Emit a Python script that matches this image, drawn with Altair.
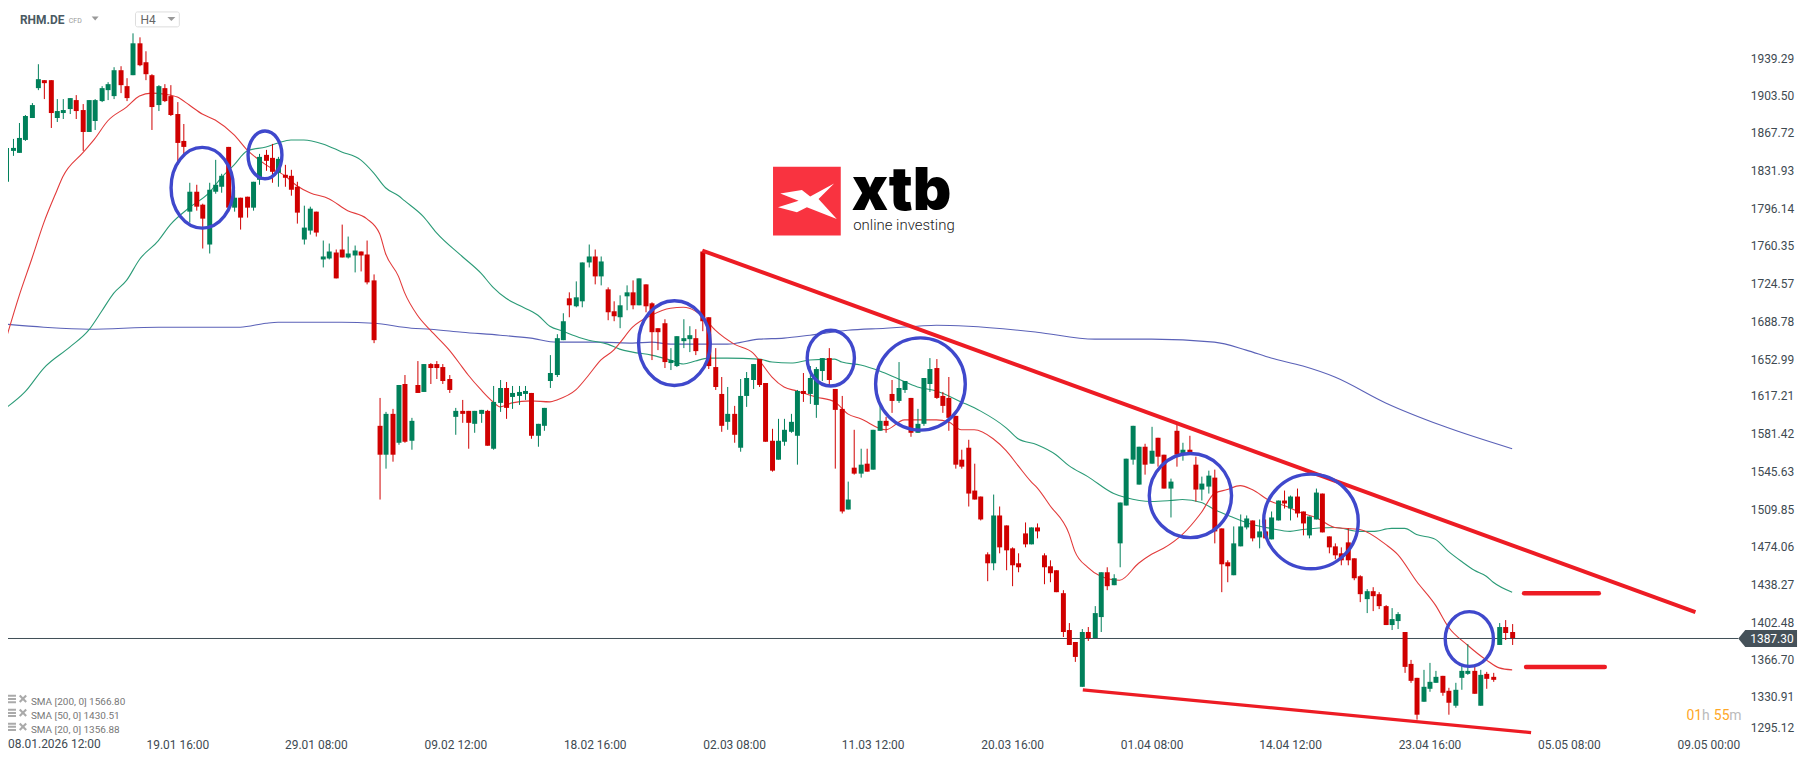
import json
import altair as alt
import pandas as pd

directions = ("GGGGGGRRGG" "GRRGGGGGRR" "GRRRGRRRRG" "RRGGGRGRRG" "GRRGRRRGGR" "GGRRGGRRRR"
              "GRGRGRGRRR" "RGRRGGRGGR" "GGGRGGGGGR" "GGGRGRRGGR" "GRRRRGGGGR" "RRRRGRGGGR"
              "RRGGGGRGGG" "RRRGRGRGGR" "RGGRGGGRRR" "RRRRRRGRRR" "RRGRRRRRRR" "GRGGRGGGGG"
              "RGRRGRGRRG" "GRRRGGGRGR" "GGRGRRGGRR" "RRRRRGRRRG" "GRRRGGGRRG" "GGRGRRGRR")
highs = [1862,1862,1877,1885,1896,1933,1918,1918,1900,1900,
1901,1904,1895,1899,1900,1912,1916,1930,1931,1920,
1963,1959,1946,1924,1913,1914,1913,1897,1876,1820,
1819,1801,1820,1842,1829,1855,1814,1806,1807,1821,
1848,1852,1857,1845,1838,1833,1821,1799,1798,1793,
1765,1763,1757,1781,1769,1761,1755,1765,1733,1616,
1602,1605,1628,1637,1597,1651,1648,1649,1651,1648,
1637,1606,1614,1603,1603,1604,1604,1627,1633,1631,
1627,1627,1627,1620,1591,1606,1656,1676,1696,1716,
1727,1745,1762,1757,1750,1721,1708,1713,1723,1728,
1729,1724,1707,1682,1691,1663,1674,1691,1684,1681,
1755,1692,1663,1636,1626,1608,1634,1640,1648,1653,
1630,1586,1596,1596,1600,1623,1639,1646,1645,1654,
1663,1624,1618,1536,1585,1567,1567,1585,1610,1598,
1633,1650,1632,1616,1605,1635,1654,1653,1621,1636,
1599,1566,1576,1553,1522,1469,1524,1512,1494,1473,
1468,1497,1492,1496,1468,1461,1452,1433,1401,1383,
1396,1398,1417,1450,1454,1448,1516,1558,1589,1569,
1572,1588,1578,1562,1539,1591,1573,1580,1560,1541,
1546,1547,1491,1461,1493,1505,1504,1499,1500,1500,
1508,1518,1527,1523,1529,1508,1503,1529,1525,1484,
1477,1473,1491,1463,1447,1434,1435,1431,1418,1416,
1412,1393,1366,1349,1357,1363,1356,1351,1340,1344,
1362,1381,1361,1357,1355,1354,1401,1404,1400]
body_tops = [1854,1854,1863,1884,1894,1919,1918,1918,1889,1890,
1901,1899,1890,1899,1899,1911,1914,1928,1928,1912,
1953,1953,1935,1923,1912,1911,1903,1886,1860,1812,
1812,1800,1814,1819,1827,1855,1806,1806,1807,1821,
1845,1847,1844,1843,1828,1827,1817,1778,1796,1793,
1750,1755,1754,1757,1753,1756,1755,1752,1728,1589,
1600,1600,1628,1629,1594,1628,1648,1648,1648,1645,
1634,1603,1603,1603,1603,1604,1603,1612,1625,1625,
1620,1621,1622,1620,1591,1606,1639,1673,1689,1710,
1711,1745,1750,1750,1746,1719,1698,1704,1716,1716,
1729,1724,1706,1682,1687,1652,1674,1673,1675,1673,
1755,1692,1645,1619,1600,1600,1618,1635,1648,1653,
1630,1575,1575,1585,1593,1622,1622,1635,1643,1654,
1654,1624,1605,1519,1549,1552,1553,1585,1594,1594,
1619,1625,1632,1616,1591,1635,1643,1644,1618,1616,
1599,1557,1568,1527,1522,1467,1504,1504,1494,1472,
1458,1487,1492,1492,1466,1455,1452,1430,1395,1383,
1393,1393,1411,1450,1450,1444,1516,1558,1589,1569,
1569,1565,1578,1562,1536,1584,1566,1566,1552,1534,
1542,1540,1491,1459,1477,1493,1501,1499,1489,1489,
1502,1518,1518,1522,1522,1508,1503,1526,1525,1484,
1474,1468,1478,1463,1446,1432,1432,1429,1417,1405,
1410,1393,1362,1349,1341,1345,1350,1351,1337,1338,
1356,1356,1356,1352,1353,1350,1398,1398,1393]
body_bottoms = [1821,1851,1849,1861,1882,1911,1915,1887,1882,1887,
1891,1889,1869,1869,1879,1898,1909,1903,1913,1901,
1923,1932,1924,1893,1894,1898,1885,1858,1855,1793,
1798,1786,1762,1812,1817,1797,1797,1787,1797,1797,
1823,1841,1831,1830,1825,1814,1792,1766,1775,1773,
1747,1748,1729,1749,1749,1751,1751,1726,1671,1562,
1562,1562,1573,1574,1575,1620,1621,1644,1644,1632,
1623,1598,1600,1592,1591,1600,1570,1567,1611,1606,
1617,1618,1619,1580,1580,1589,1632,1637,1671,1704,
1703,1708,1745,1731,1731,1697,1693,1692,1712,1704,
1704,1703,1678,1678,1650,1649,1646,1670,1672,1660,
1689,1646,1626,1589,1593,1581,1568,1618,1633,1628,
1574,1546,1557,1574,1583,1580,1619,1619,1609,1641,
1633,1604,1508,1509,1544,1544,1545,1547,1584,1589,
1613,1613,1623,1582,1582,1591,1629,1616,1608,1597,
1552,1550,1525,1519,1500,1458,1458,1473,1471,1456,
1454,1476,1476,1489,1454,1449,1431,1393,1380,1369,
1341,1387,1387,1407,1436,1437,1477,1513,1557,1533,
1552,1553,1560,1529,1529,1562,1562,1563,1528,1528,
1531,1489,1457,1455,1447,1474,1492,1482,1483,1482,
1481,1499,1515,1510,1506,1496,1485,1500,1488,1473,
1466,1461,1461,1444,1429,1424,1427,1417,1399,1399,
1403,1360,1346,1314,1326,1339,1344,1335,1325,1323,
1349,1353,1334,1323,1348,1347,1380,1392,1387]
lows = [1819,1846,1849,1860,1882,1909,1900,1873,1878,1881,
1886,1881,1851,1869,1871,1897,1899,1900,1906,1898,
1923,1931,1918,1871,1889,1897,1884,1838,1848,1783,
1794,1758,1753,1810,1811,1793,1793,1776,1787,1794,
1819,1832,1820,1817,1817,1808,1782,1762,1771,1769,
1740,1747,1729,1749,1748,1735,1736,1724,1668,1519,
1548,1555,1571,1573,1566,1620,1621,1629,1634,1629,
1620,1581,1592,1567,1582,1592,1570,1566,1602,1596,
1605,1609,1614,1577,1569,1584,1625,1636,1671,1692,
1702,1702,1740,1724,1723,1690,1689,1682,1699,1700,
1704,1697,1652,1661,1644,1642,1645,1663,1659,1656,
1679,1643,1623,1583,1585,1573,1564,1607,1624,1626,
1574,1545,1557,1570,1582,1552,1612,1610,1597,1632,
1627,1548,1506,1509,1543,1540,1545,1547,1584,1582,
1601,1611,1620,1579,1582,1589,1621,1615,1601,1584,
1548,1548,1512,1519,1499,1441,1452,1468,1452,1436,
1450,1473,1476,1482,1438,1440,1431,1388,1380,1364,
1341,1384,1387,1393,1433,1437,1454,1513,1552,1533,
1543,1553,1550,1529,1502,1550,1556,1562,1517,1518,
1525,1477,1431,1440,1447,1474,1490,1479,1472,1482,
1481,1499,1510,1499,1502,1485,1482,1500,1488,1468,
1462,1456,1456,1442,1421,1411,1413,1415,1399,1395,
1396,1354,1344,1309,1326,1336,1344,1332,1314,1321,
1338,1352,1334,1323,1339,1345,1380,1385,1380]

sma20_at = [0,2,4,6,8,9,12,14,16,19,21,23,25,27,29,31,33,36,38,41,44,46,48,51,54,57,59,60,62,63,65,67,70,72,73,75,77,78,80,83,86,87,90,92,94,96,97,99,102,105,107,108,110,112,115,118,119,121,123,125,128,131,133,135,139,142,144,147,149,151,153,156,158,160,162,163,165,168,169,171,173,176,179,181,183,186,189,191,193,195,197,200,202,205,207,210,214,218,220,223,226,228,231,234,236,238]
sma20 = [1672,1712,1748,1783,1813,1826,1849,1862,1879,1893,1903,1906,1905,1902,1894,1886,1880,1866,1852,1838,1827,1818,1811,1805,1794,1786,1772,1753,1731,1716,1694,1680,1661,1645,1637,1623,1612,1607,1611,1613,1612,1614,1623,1637,1652,1661,1668,1683,1694,1701,1702,1701,1693,1680,1667,1658,1652,1636,1626,1622,1617,1612,1600,1596,1585,1595,1595,1595,1593,1585,1585,1577,1565,1551,1536,1530,1513,1487,1470,1454,1446,1442,1458,1467,1472,1486,1507,1525,1528,1532,1528,1517,1513,1506,1502,1492,1490,1476,1467,1441,1418,1398,1380,1366,1359,1357]
sma50_at = [0,3,6,10,13,15,17,19,21,24,26,29,32,34,36,38,41,43,45,47,50,53,56,58,60,62,63,66,68,72,75,77,79,81,84,86,88,91,92,95,97,99,102,105,107,109,111,114,119,121,124,127,131,132,135,138,141,144,147,151,154,158,160,163,166,168,171,175,177,181,184,186,189,191,194,197,200,203,205,210,214,216,219,221,223,226,228,230,232,234,235,238]
sma50 = [1606,1621,1644,1664,1680,1698,1715,1728,1747,1765,1781,1797,1811,1825,1838,1851,1855,1858,1861,1861,1857,1850,1842,1830,1816,1808,1803,1788,1773,1750,1734,1721,1710,1704,1694,1684,1679,1673,1671,1667,1662,1659,1656,1652,1648,1651,1654,1654,1653,1650,1649,1652,1653,1650,1647,1641,1634,1626,1622,1612,1603,1587,1577,1571,1562,1551,1541,1525,1521,1517,1518,1519,1516,1509,1502,1495,1491,1489,1490,1492,1489,1489,1491,1491,1486,1481,1470,1460,1452,1446,1440,1431]
sma200_at = [0,6,13,24,37,41,43,53,58,64,67,72,78,83,87,94,99,102,105,114,119,123,127,133,139,144,147,152,163,172,181,191,196,200,205,210,218,227,238]
sma200 = [1686,1683,1681,1683,1683,1687,1688,1688,1687,1682,1681,1678,1675,1673,1669,1669,1668,1669,1667,1667,1672,1673,1675,1680,1682,1684,1685,1684,1678,1672,1672,1669,1661,1654,1646,1636,1611,1589,1567]

last_price = 1387.30
y_ticks = [1939.29,1903.50,1867.72,1831.93,1796.14,1760.35,1724.57,1688.78,1652.99,1617.21,1581.42,1545.63,1509.85,1474.06,1438.27,1402.48,1366.70,1330.91,1295.12]
x_ticks = [0.3,27,49,71,93,115,137,159,181,203,225,247,269]
x_labels = ["08.01.2026 12:00","19.01 16:00","29.01 08:00","09.02 12:00","18.02 16:00","02.03 08:00","11.03 12:00","20.03 16:00","01.04 08:00","14.04 12:00","23.04 16:00","05.05 08:00","09.05 00:00"]
legend_rows = ["SMA [200, 0] 1566.80","SMA [50, 0] 1430.51","SMA [20, 0] 1356.88"]

trend_main = [(110,1756),(267,1412)]
trend_low = [(170.2,1338),(241,1297)]
level_high = [(240,1429.5),(251.8,1429.5)]
level_low = [(240.2,1359.3),(252.7,1359.3)]
ellipses = [(31,1815.7,31.3,40.5),(40.9,1847,17,24),(105.6,1668,36,42.5),(130.3,1653.6,23.7,28),
            (144.5,1629,45,46.3),(187.2,1522.5,41.3,42.2),(206.3,1498.5,47.5,47.5),(231.3,1386.4,24.2,27.5)]

GREEN, RED = "#00805A", "#D00000"
TEXT = "#3E4A52"
FONT = "Roboto"
sx = alt.Scale(domain=[0.268,273.8], round=True, nice=False, zero=False, padding=0)
sy = alt.Scale(domain=[1295.11,1985.47], round=True, nice=False, zero=False, padding=0)

candles = pd.DataFrame({"i":range(len(highs)),"h":highs,"l":lows,"t":body_tops,"b":body_bottoms,"d":list(directions)})
col = alt.Color("d:N", scale=alt.Scale(domain=["G","R"], range=[GREEN,RED]), legend=None)

xexpr = f"{json.dumps(x_labels)}[indexof({json.dumps(x_ticks)},datum.value)]"
xaxis = alt.Axis(values=x_ticks[1:], labelExpr=xexpr, grid=False, domain=False, ticks=False, title=None, labelFont=FONT,
                 labelFontSize=12, labelColor=TEXT, labelPadding=5, labelOverlap=False, labelBound=False, labelFlush=False,
                 labelAngle=0)
yaxis = alt.Axis(values=y_ticks, format=".2f", orient="right", grid=False, domain=False, ticks=False, title=None, labelFont=FONT,
                 labelFontSize=12, labelColor=TEXT, labelPadding=12, labelOverlap=False, labelFlush=True)
X = alt.X("i:Q", scale=sx, axis=xaxis)
Y = alt.Y("p:Q", scale=sy, axis=yaxis)

wicks = alt.Chart(candles).mark_rule(strokeWidth=1, xOffset=0.5).encode(
    x=X, y=alt.Y("l:Q", scale=sy, axis=yaxis), y2="h:Q", color=col)
bodies = alt.Chart(candles).mark_bar(size=5, xOffset=0.5).encode(x=X, y=alt.Y("t:Q", scale=sy, axis=yaxis), y2="b:Q", color=col)

def series(at, vals, colour, width=1.1):
    d = pd.DataFrame({"i":at,"p":vals})
    return alt.Chart(d).mark_line(color=colour, strokeWidth=width, interpolate="monotone", clip=True).encode(x=X, y=Y)

def seg(pts, colour, width, cap="butt"):
    d = pd.DataFrame(pts, columns=["i","p"])
    return alt.Chart(d).mark_line(color=colour, strokeWidth=width, strokeCap=cap).encode(x=X, y=Y)

one = pd.DataFrame({"a":[0]})
def deco(path, px, py, colour, filled=True, sw=1):
    kw = dict(fill=colour, strokeWidth=0) if filled else dict(stroke=colour, strokeWidth=sw)
    return alt.Chart(one).mark_point(shape=path, size=4, filled=filled, opacity=1, **kw).encode(
        x=alt.value(px-8), y=alt.value(py-8))

def label(s, px, py, size, colour, weight=400, font=FONT, baseline="alphabetic", **kw):
    return alt.Chart(pd.DataFrame({"s":[s]})).mark_text(align="left", baseline=baseline, fontSize=size, color=colour,
        fontWeight=weight, font=font, **kw).encode(x=alt.value(px-8), y=alt.value(py-8), text="s:N")

pline = alt.Chart(pd.DataFrame({"p":[last_price]})).mark_rule(color="#3F4D55", strokeWidth=1, yOffset=0.5).encode(y=Y)
ptag = alt.Chart(pd.DataFrame({"p":[last_price]})).mark_point(shape="M0,0L7,-8.5H59V8.5H7Z", size=4, filled=True, fill="#455159",
        strokeWidth=0, opacity=1, yOffset=0.5).encode(x=alt.value(1745-8), y=Y)
ptxt = alt.Chart(pd.DataFrame({"p":[last_price],"s":[f"{last_price:.2f}"]})).mark_text(align="left", baseline="middle", color="white",
        fontSize=12, font=FONT, yOffset=1).encode(x=alt.value(1757-8), y=Y, text="s:N")

ell_layers = []
for ci, cp, rx, ry in ellipses:
    path = f"M{-rx},0A{rx},{ry} 0 1,1 {rx},0A{rx},{ry} 0 1,1 {-rx},0Z"
    ell_layers.append(alt.Chart(pd.DataFrame({"i":[ci],"p":[cp]})).mark_point(shape=path, size=4, filled=False, stroke="#3F48CC",
        strokeWidth=3.4, opacity=1).encode(x=X, y=Y))

layers = [series(sma200_at, sma200, "#5B62B8"), series(sma50_at, sma50, "#2B9B77"), series(sma20_at, sma20, "#E23B3B"),
          pline, wicks, bodies,
          seg(trend_main, "#ED1C24", 4), seg(trend_low, "#ED1C24", 3.2),
          seg(level_high, "#ED1C24", 4.5, "round"), seg(level_low, "#ED1C24", 4.5, "round")] + ell_layers + [ptag, ptxt]

layers += [deco("M0,0H68V69H0Z", 776, 166, "#F93340"),
           deco("M7.3,26.7L29,23.3L37.3,29.7L61.3,16.7L45.7,32.3L64,52.3L34,40.7L24,45.7L5,40.7L25.7,34Z", 776, 166, "white"),
           label("xtb", 855, 209, 60, "#000000", 900, "Inter"),
           label("online investing", 856.5, 229, 15, "#222222", 300, "Roboto")]
layers += [label("RHM.DE", 20, 23, 12, "#4A5A63", 700),
           label("CFD", 69, 22, 7, "#999999"),
           deco("M0,0H7L3.5,4Z", 92, 15, "#999999"),
           deco("M2,0H42A2,2 0 0 1 44,2V13A2,2 0 0 1 42,15H2A2,2 0 0 1 0,13V2A2,2 0 0 1 2,0Z", 136, 10.5, "#DDDDDD", False, 1),
           label("H4", 141, 23, 12, "#666666"),
           deco("M0,0H8L4,4Z", 168, 15.5, "#999999")]
for n, (row, py) in enumerate(zip(legend_rows, [706, 720, 734])):
    layers += [deco("M0,0H10V2H0ZM0,3.2H10V5.2H0ZM0,6.4H10V8.4H0Z", 6, py-10, "#AAAAAA"),
               deco("M-4,-2.5L-2.5,-4L0,-1.5L2.5,-4L4,-2.5L1.5,0L4,2.5L2.5,4L0,1.5L-2.5,4L-4,2.5L-1.5,0Z", 23, py-6, "#AAAAAA"),
               label(row, 31, py, 10, "#777777")]
# the first date label sits flush with the plot's left edge
layers += [label(x_labels[0], 8, 749, 12, TEXT)]
layers += [label("01", 1693, 721, 14, "#FFA726"), label("h", 1708.5, 721, 14, "#BBBBBB"),
           label("55", 1720.5, 721, 14, "#FFA726"), label("m", 1736, 721, 14, "#BBBBBB")]

chart = alt.layer(*layers).resolve_scale(x="shared", y="shared", color="independent").properties(
    width=1737, height=728, padding={"left":0,"top":0,"right":70,"bottom":16},
    autosize=alt.AutoSizeParams(type="none"), background="white"
).configure_view(stroke=None)
chart.save("out.html", embed_options={"renderer": "svg", "actions": False})
